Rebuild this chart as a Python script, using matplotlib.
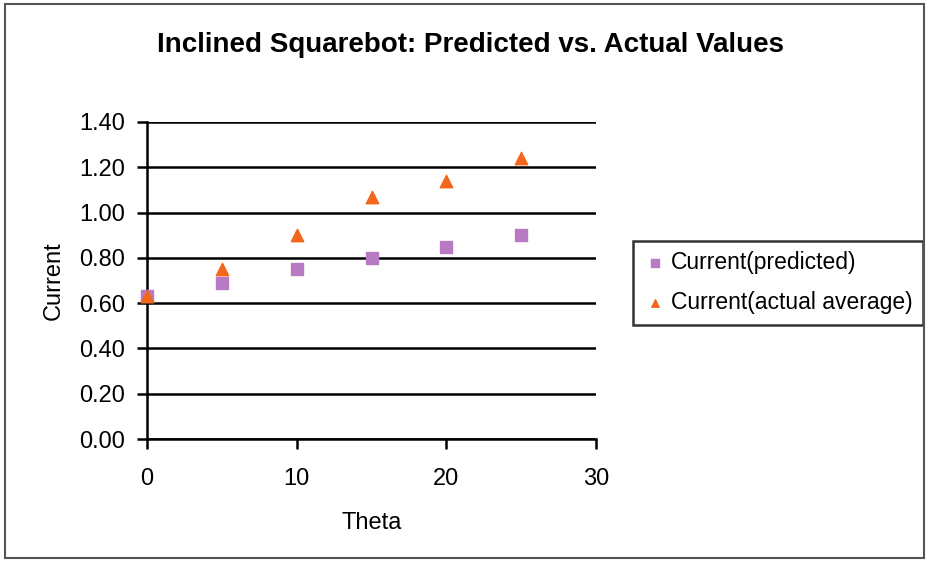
import matplotlib
matplotlib.use("Agg")
import matplotlib.pyplot as plt
from matplotlib.patches import Rectangle

plt.rcParams['font.family'] = ['Liberation Sans', 'DejaVu Sans']

theta = [0, 5, 10, 15, 20, 25]
current_predicted = [0.63, 0.69, 0.75, 0.80, 0.85, 0.90]
current_actual = [0.63, 0.75, 0.90, 1.07, 1.14, 1.24]
y_ticks = [0.0, 0.2, 0.4, 0.6, 0.8, 1.0, 1.2, 1.4]
x_ticks = [0, 10, 20, 30]

fig = plt.figure(figsize=(9.27, 5.61), dpi=100)
ax = fig.add_axes([147/927, 1 - 439/561, (596-147)/927, (439-122)/561])

# outer chart border
fig.patches.append(Rectangle((5/927, 3/561), 919/927, 554/561, transform=fig.transFigure,
                             fill=False, edgecolor='#555555', linewidth=1.5))

ax.scatter(theta, current_predicted, marker='s', s=80, color='#b97ac4',
           label='Current(predicted)', zorder=3, clip_on=False)
ax.scatter(theta, current_actual, marker='^', s=80, color='#f2671c',
           label='Current(actual average)', zorder=4, clip_on=False)

ax.set_xlim(0, 30)
ax.set_ylim(0, 1.4)
ax.set_xticks(x_ticks)
ax.set_yticks(y_ticks)
ax.set_yticklabels(['%.2f' % v for v in y_ticks])
ax.yaxis.grid(True, color='black', linewidth=1.8)
ax.set_axisbelow(True)
for s in ['top', 'right']:
    ax.spines[s].set_visible(False)
ax.spines['left'].set_linewidth(1.8)
ax.spines['bottom'].set_linewidth(1.8)
ax.tick_params(axis='both', labelsize=17, width=1.8, length=7, direction='out')
ax.tick_params(axis='y', pad=9)
ax.tick_params(axis='x', pad=14)

ax.set_xlabel('Theta', fontsize=17, labelpad=16)
ax.set_ylabel('Current', fontsize=17, labelpad=10)

fig.text(470/927, 1 - 45/561, 'Inclined Squarebot: Predicted vs. Actual Values',
         ha='center', va='center', fontsize=20, fontweight='bold')

leg = ax.legend(loc='upper left', bbox_to_anchor=(633/927, 1 - 241/561), bbox_transform=fig.transFigure,
                fontsize=16.5, frameon=True, fancybox=False, edgecolor='black',
                handletextpad=0.2, handlelength=1.0, borderpad=0.45, labelspacing=0.75,
                borderaxespad=0, markerscale=0.6)
leg.get_frame().set_linewidth(1.8)

fig.savefig('out.png', dpi=100)
